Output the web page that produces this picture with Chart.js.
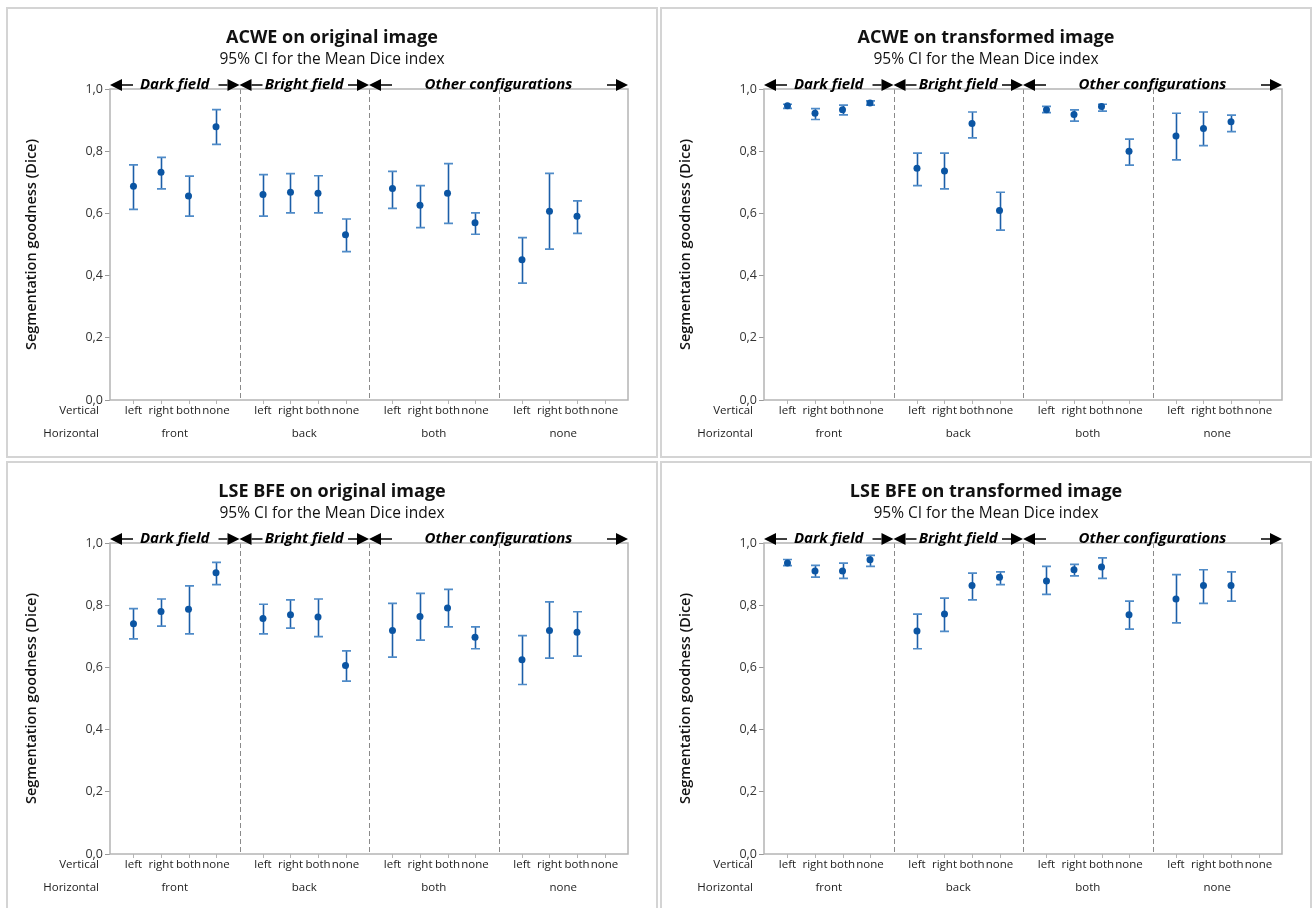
<!DOCTYPE html>
<html>
<head>
<meta charset="utf-8">
<script src="https://cdn.jsdelivr.net/npm/chart.js@4.4.1/dist/chart.umd.min.js"></script>
<style>
  body { margin: 0; background: #fff; }
  #wrap { position: relative; width: 1314px; height: 908px; overflow: hidden; background: #fff; }
  canvas { position: absolute; }
</style>
</head>
<body>
<div id="wrap">
  <canvas id="c1" width="652" height="451" style="left:6px;top:7px"></canvas>
  <canvas id="c2" width="652" height="451" style="left:660px;top:7px"></canvas>
  <canvas id="c3" width="652" height="451" style="left:6px;top:461px"></canvas>
  <canvas id="c4" width="652" height="451" style="left:660px;top:461px"></canvas>
</div>
<script>
// categories
const vertical = ['left', 'right', 'both', 'none']
const horizontal = ['front', 'back', 'both', 'none']
const yTicks = [0, 0.2, 0.4, 0.6, 0.8, 1.0]
const fieldNames = ['Dark field', 'Bright field', 'Other configurations']
const fieldSpans = [[0, 1], [1, 2], [2, 4]]   // in horizontal groups

// ACWE on original image (16 cells: front x4, back x4, both x4, none x4)
const acweOrigMean = [0.687, 0.732, 0.656, 0.879, 0.661, 0.668, 0.665, 0.531, 0.680, 0.626, 0.665, 0.570, 0.451, 0.607, 0.591, null]
const acweOrigLow  = [0.613, 0.679, 0.591, 0.822, 0.591, 0.602, 0.602, 0.477, 0.616, 0.554, 0.568, 0.533, 0.376, 0.485, 0.536, null]
const acweOrigHigh = [0.756, 0.780, 0.720, 0.934, 0.725, 0.728, 0.721, 0.582, 0.735, 0.689, 0.760, 0.602, 0.522, 0.729, 0.640, null]

// ACWE on transformed image
const acweTransMean = [0.946, 0.922, 0.933, 0.955, 0.745, 0.736, 0.889, 0.609, 0.933, 0.918, 0.944, 0.800, 0.849, 0.873, 0.895, null]
const acweTransLow  = [0.938, 0.902, 0.917, 0.948, 0.689, 0.679, 0.843, 0.546, 0.924, 0.897, 0.929, 0.755, 0.772, 0.818, 0.863, null]
const acweTransHigh = [0.951, 0.937, 0.948, 0.962, 0.794, 0.794, 0.926, 0.668, 0.944, 0.933, 0.951, 0.839, 0.922, 0.926, 0.916, null]

// LSE BFE on original image
const lseOrigMean = [0.740, 0.780, 0.787, 0.904, 0.757, 0.769, 0.762, 0.606, 0.719, 0.764, 0.791, 0.697, 0.625, 0.719, 0.713, null]
const lseOrigLow  = [0.692, 0.733, 0.708, 0.866, 0.708, 0.726, 0.699, 0.556, 0.633, 0.688, 0.730, 0.660, 0.545, 0.630, 0.636, null]
const lseOrigHigh = [0.789, 0.820, 0.862, 0.938, 0.803, 0.817, 0.820, 0.653, 0.806, 0.838, 0.851, 0.730, 0.702, 0.811, 0.779, null]

// LSE BFE on transformed image
const lseTransMean = [0.936, 0.910, 0.910, 0.946, 0.717, 0.772, 0.863, 0.890, 0.878, 0.914, 0.923, 0.769, 0.820, 0.863, 0.863, null]
const lseTransLow  = [0.927, 0.890, 0.886, 0.925, 0.660, 0.716, 0.817, 0.866, 0.835, 0.894, 0.886, 0.723, 0.743, 0.806, 0.813, null]
const lseTransHigh = [0.947, 0.928, 0.935, 0.960, 0.771, 0.823, 0.903, 0.907, 0.925, 0.931, 0.952, 0.813, 0.898, 0.914, 0.907, null]

const FONT = "'Open Sans', 'Noto Sans', sans-serif"
const SPACING = 0.2124   // spacing of the 4 vertical cells inside one group

// x position of a cell on the linear 0..4 axis
function cellX(idx) {
    const g = Math.floor(idx / 4)
    const i = idx % 4
    return g + 0.5 + (i - 1.5) * SPACING
}

function arrowHead(ctx, tipX, y, dir) {
    ctx.beginPath()
    ctx.moveTo(tipX, y)
    ctx.lineTo(tipX - dir * 12, y - 6)
    ctx.lineTo(tipX - dir * 12, y + 6)
    ctx.closePath()
    ctx.fill()
}

const decor = {
    id: 'decor',
    beforeDatasetsDraw(chart, args, opts) {
        const ctx = chart.ctx
        const xs = chart.scales.x, ys = chart.scales.y
        const area = chart.chartArea
        ctx.save()
        // group separators
        ctx.strokeStyle = '#8a8a8a'
        ctx.lineWidth = 1
        ctx.setLineDash([5, 3])
        for (let g = 1; g < 4; g++) {
            const x = Math.round(xs.getPixelForValue(g)) + 0.5
            ctx.beginPath()
            ctx.moveTo(x, area.top)
            ctx.lineTo(x, area.bottom)
            ctx.stroke()
        }
        ctx.setLineDash([])
        // confidence intervals
        for (let k = 0; k < opts.low.length; k++) {
            if (opts.low[k] == null) continue
            const x = Math.round(xs.getPixelForValue(cellX(k))) + 0.5
            const y1 = ys.getPixelForValue(opts.low[k])
            const y2 = ys.getPixelForValue(opts.high[k])
            ctx.strokeStyle = '#1c5ea8'
            ctx.lineWidth = 1.6
            ctx.beginPath()
            ctx.moveTo(x, y1)
            ctx.lineTo(x, y2)
            ctx.stroke()
            ctx.strokeStyle = '#4f8bc8'
            ctx.lineWidth = 1.7
            ctx.beginPath()
            ctx.moveTo(x - 4.5, y1); ctx.lineTo(x + 4.5, y1)
            ctx.moveTo(x - 4.5, y2); ctx.lineTo(x + 4.5, y2)
            ctx.stroke()
        }
        ctx.restore()
    },
    afterDraw(chart, args, opts) {
        const ctx = chart.ctx
        const xs = chart.scales.x
        const area = chart.chartArea
        const w = chart.width
        ctx.save()
        // panel frame
        ctx.strokeStyle = '#d4d4d4'
        ctx.lineWidth = 2
        ctx.strokeRect(1, 1, w - 2, chart.height - 2)
        // plot frame
        ctx.strokeStyle = '#b4b4b4'
        ctx.lineWidth = 1.5
        ctx.strokeRect(area.left, area.top, area.right - area.left, area.bottom - area.top)
        // small x ticks
        ctx.lineWidth = 1
        ctx.beginPath()
        for (let k = 0; k < 16; k++) {
            const x = Math.round(xs.getPixelForValue(cellX(k))) + 0.5
            ctx.moveTo(x, area.bottom)
            ctx.lineTo(x, area.bottom + 4)
        }
        ctx.stroke()

        // titles
        ctx.fillStyle = '#111'
        ctx.textAlign = 'center'
        ctx.textBaseline = 'middle'
        ctx.font = `bold 18px ${FONT}`
        ctx.fillText(opts.title, w / 2, 31)
        ctx.font = `15.5px ${FONT}`
        ctx.fillText('95% CI for the Mean Dice index', w / 2, 53)

        // y title
        ctx.save()
        ctx.translate(26, (area.top + area.bottom) / 2)
        ctx.rotate(-Math.PI / 2)
        ctx.font = `600 14.5px ${FONT}`
        ctx.fillText('Segmentation goodness (Dice)', 0, 0)
        ctx.restore()

        // category labels
        ctx.fillStyle = '#222'
        ctx.font = `11.5px ${FONT}`
        ctx.textAlign = 'right'
        ctx.fillText('Vertical', 93, area.bottom + 11)
        ctx.fillText('Horizontal', 93, area.bottom + 34)
        ctx.textAlign = 'center'
        for (let k = 0; k < 16; k++) {
            ctx.fillText(vertical[k % 4], xs.getPixelForValue(cellX(k)), area.bottom + 11)
        }
        for (let g = 0; g < 4; g++) {
            ctx.fillText(horizontal[g], xs.getPixelForValue(g + 0.5), area.bottom + 34)
        }

        // field annotations with arrows
        const ay = area.top - 4
        ctx.fillStyle = '#000'
        ctx.strokeStyle = '#000'
        ctx.lineWidth = 1.3
        ctx.font = `italic bold 15px ${FONT}`
        fieldNames.forEach((name, n) => {
            const xL = xs.getPixelForValue(fieldSpans[n][0])
            const xR = xs.getPixelForValue(fieldSpans[n][1])
            arrowHead(ctx, xL, ay, -1)
            arrowHead(ctx, xR, ay, 1)
            ctx.beginPath()
            ctx.moveTo(xL + 12, ay); ctx.lineTo(xL + 23, ay)
            ctx.moveTo(xR - 12, ay); ctx.lineTo(xR - 21, ay)
            ctx.stroke()
            ctx.fillText(name, (xL + xR) / 2, ay)
        })
        ctx.restore()
    }
}

function makePanel(canvasId, title, mean, low, high) {
    const points = []
    for (let k = 0; k < mean.length; k++) {
        if (mean[k] != null) points.push({ x: cellX(k), y: mean[k] })
    }
    return new Chart(document.getElementById(canvasId), {
        type: 'scatter',
        data: {
            datasets: [{
                data: points,
                pointRadius: 3.5,
                pointBackgroundColor: '#0b55a3',
                pointBorderWidth: 0
            }]
        },
        options: {
            responsive: false,
            animation: false,
            layout: { padding: { top: 82, right: 30, left: 0, bottom: 0 } },
            plugins: {
                legend: { display: false },
                tooltip: { enabled: false },
                decor: { title: title, low: low, high: high }
            },
            scales: {
                x: {
                    type: 'linear', min: 0, max: 4,
                    ticks: { display: false },
                    grid: { display: false },
                    border: { display: false },
                    afterFit: s => { s.height = 58 }
                },
                y: {
                    min: 0, max: 1,
                    afterBuildTicks: s => { s.ticks = yTicks.map(v => ({ value: v })) },
                    ticks: {
                        padding: 2,
                        color: '#333',
                        font: { family: FONT, size: 12.5 },
                        callback: v => v.toFixed(1).replace('.', ',')
                    },
                    grid: { drawOnChartArea: false, tickLength: 5, color: '#999' },
                    border: { display: false },
                    afterFit: s => { s.width = 104 }
                }
            }
        },
        plugins: [decor]
    })
}

makePanel('c1', 'ACWE on original image', acweOrigMean, acweOrigLow, acweOrigHigh)
makePanel('c2', 'ACWE on transformed image', acweTransMean, acweTransLow, acweTransHigh)
makePanel('c3', 'LSE BFE on original image', lseOrigMean, lseOrigLow, lseOrigHigh)
makePanel('c4', 'LSE BFE on transformed image', lseTransMean, lseTransLow, lseTransHigh)
</script>
</body>
</html>
